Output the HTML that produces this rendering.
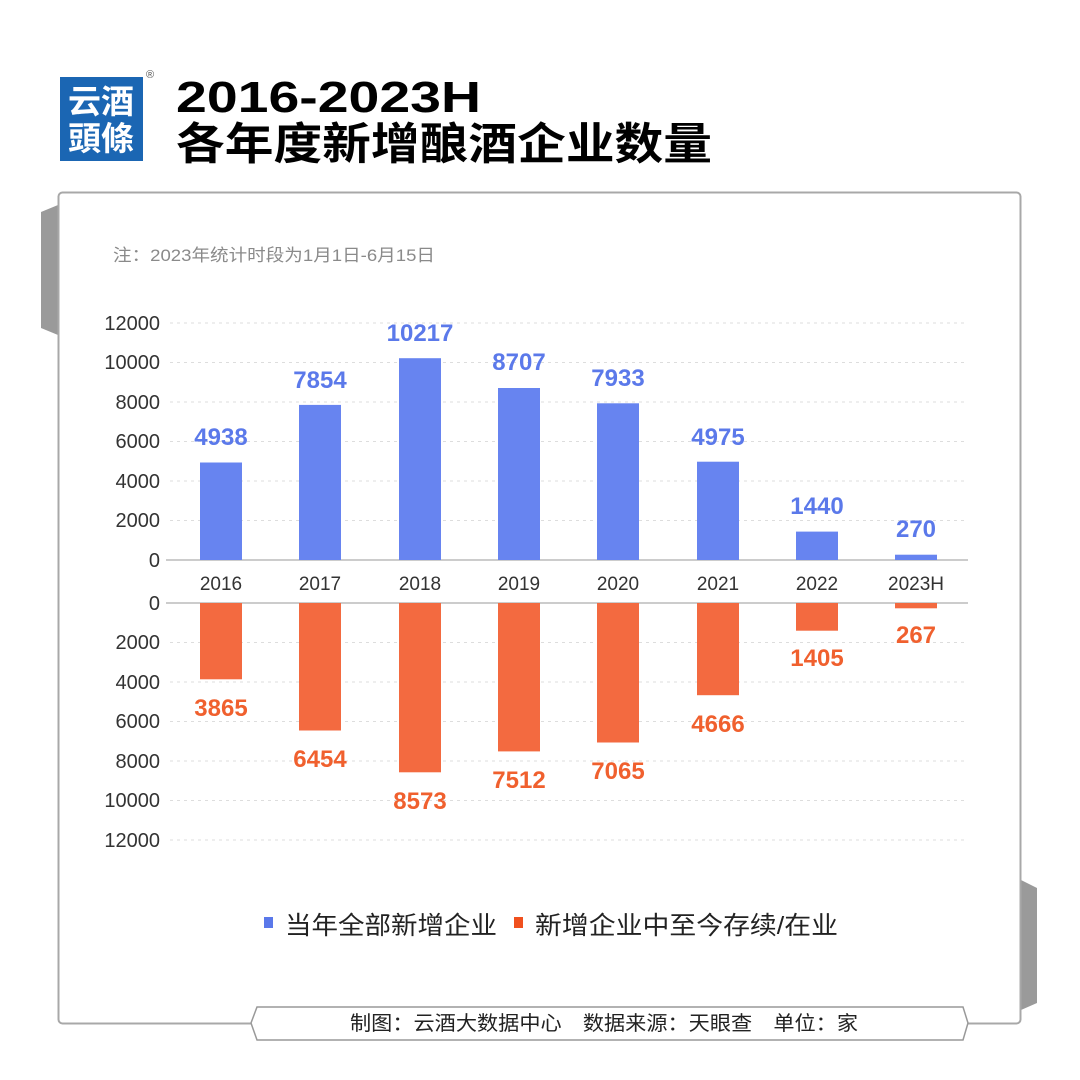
<!DOCTYPE html>
<html><head><meta charset="utf-8"><style>
body{margin:0;width:1080px;height:1080px;background:#fff;overflow:hidden}
svg{display:block}
text{font-family:"Liberation Sans","Noto Sans CJK SC",sans-serif}
</style></head><body>
<svg width="1080" height="1080" viewBox="0 0 1080 1080">
<rect x="60" y="77" width="83" height="84" fill="#1b66b3"/>
<text x="101" y="113" font-size="33" fill="#fff" text-anchor="middle" font-family="Noto Serif CJK SC,serif" font-weight="bold">云酒</text>
<text x="101" y="150" font-size="33" fill="#fff" text-anchor="middle" font-family="Noto Serif CJK SC,serif" font-weight="bold">頭條</text>
<text x="150" y="78" font-size="11" fill="#555" text-anchor="middle">®</text>
<text x="176" y="112" font-size="44" font-weight="bold" fill="#000" textLength="305" lengthAdjust="spacingAndGlyphs">2016-2023H</text>
<text x="176" y="159" font-size="44" font-weight="bold" fill="#000" textLength="536" lengthAdjust="spacingAndGlyphs">各年度新增酿酒企业数量</text>
<polygon points="41,212 58,205 58,335 41,328" fill="#9a9a9a"/>
<polygon points="1021,880 1037,888 1037,1003 1021,1010" fill="#9a9a9a"/>
<rect x="58.5" y="192.5" width="962" height="831" rx="4" fill="#fff" stroke="#a8a8a8" stroke-width="2"/>
<text x="113" y="261" font-size="17" fill="#8a8a8a" textLength="322" lengthAdjust="spacingAndGlyphs">注：2023年统计时段为1月1日-6月15日</text>
<g stroke="#ddd" stroke-dasharray="3,4" stroke-width="1">
<line x1="170" x2="968" y1="323" y2="323"/><line x1="170" x2="968" y1="362.5" y2="362.5"/><line x1="170" x2="968" y1="402" y2="402"/><line x1="170" x2="968" y1="441.5" y2="441.5"/><line x1="170" x2="968" y1="481" y2="481"/><line x1="170" x2="968" y1="520.5" y2="520.5"/>
<line x1="170" x2="968" y1="642.5" y2="642.5"/><line x1="170" x2="968" y1="682" y2="682"/><line x1="170" x2="968" y1="721.5" y2="721.5"/><line x1="170" x2="968" y1="761" y2="761"/><line x1="170" x2="968" y1="800.5" y2="800.5"/><line x1="170" x2="968" y1="840" y2="840"/>
</g>
<line x1="166" x2="968" y1="560" y2="560" stroke="#ccc" stroke-width="2"/>
<line x1="166" x2="968" y1="603" y2="603" stroke="#ccc" stroke-width="2"/>
<g font-size="20" fill="#333" text-anchor="end">
<text x="160" y="330">12000</text><text x="160" y="369">10000</text><text x="160" y="409">8000</text><text x="160" y="448">6000</text><text x="160" y="488">4000</text><text x="160" y="527">2000</text><text x="160" y="567">0</text>
<text x="160" y="610">0</text><text x="160" y="649">2000</text><text x="160" y="689">4000</text><text x="160" y="728">6000</text><text x="160" y="768">8000</text><text x="160" y="807">10000</text><text x="160" y="847">12000</text>
</g>
<g font-size="19" fill="#333" text-anchor="middle">
<text x="221" y="590">2016</text><text x="320" y="590">2017</text><text x="420" y="590">2018</text><text x="519" y="590">2019</text><text x="618" y="590">2020</text><text x="718" y="590">2021</text><text x="817" y="590">2022</text><text x="916" y="590">2023H</text>
</g>
<g fill="#6784f0">
<rect x="200" y="462.5" width="42" height="97.5"/><rect x="299" y="404.9" width="42" height="155.1"/><rect x="399" y="358.2" width="42" height="201.8"/><rect x="498" y="388" width="42" height="172"/><rect x="597" y="403.3" width="42" height="156.7"/><rect x="697" y="461.7" width="42" height="98.3"/><rect x="796" y="531.6" width="42" height="28.4"/><rect x="895" y="554.7" width="42" height="5.3"/>
</g>
<g fill="#f36a40">
<rect x="200" y="603" width="42" height="76.3"/><rect x="299" y="603" width="42" height="127.5"/><rect x="399" y="603" width="42" height="169.3"/><rect x="498" y="603" width="42" height="148.4"/><rect x="597" y="603" width="42" height="139.5"/><rect x="697" y="603" width="42" height="92.2"/><rect x="796" y="603" width="42" height="27.7"/><rect x="895" y="603" width="42" height="5.3"/>
</g>
<g font-size="24" font-weight="bold" fill="#5b79ea" text-anchor="middle">
<text x="221" y="445">4938</text><text x="320" y="388">7854</text><text x="420" y="341">10217</text><text x="519" y="370">8707</text><text x="618" y="386">7933</text><text x="718" y="445">4975</text><text x="817" y="514">1440</text><text x="916" y="537">270</text>
</g>
<g font-size="24" font-weight="bold" fill="#f0602e" text-anchor="middle">
<text x="221" y="716">3865</text><text x="320" y="767">6454</text><text x="420" y="809">8573</text><text x="519" y="788">7512</text><text x="618" y="779">7065</text><text x="718" y="732">4666</text><text x="817" y="666">1405</text><text x="916" y="643">267</text>
</g>
<rect x="264" y="917" width="9" height="11" fill="#5a78ea"/>
<text x="285" y="934" font-size="25" fill="#222" textLength="212" lengthAdjust="spacingAndGlyphs">当年全部新增企业</text>
<rect x="514" y="917" width="9" height="11" fill="#f0501e"/>
<text x="535" y="934" font-size="25" fill="#222" textLength="303" lengthAdjust="spacingAndGlyphs">新增企业中至今存续/在业</text>
<polygon points="257,1007 963,1007 968,1023 963,1040 257,1040 251,1023" fill="#fff" stroke="#999" stroke-width="1.5"/>
<text x="350" y="1030" font-size="20" fill="#222" textLength="508" lengthAdjust="spacingAndGlyphs">制图：云酒大数据中心　数据来源：天眼查　单位：家</text>
</svg>
</body></html>
